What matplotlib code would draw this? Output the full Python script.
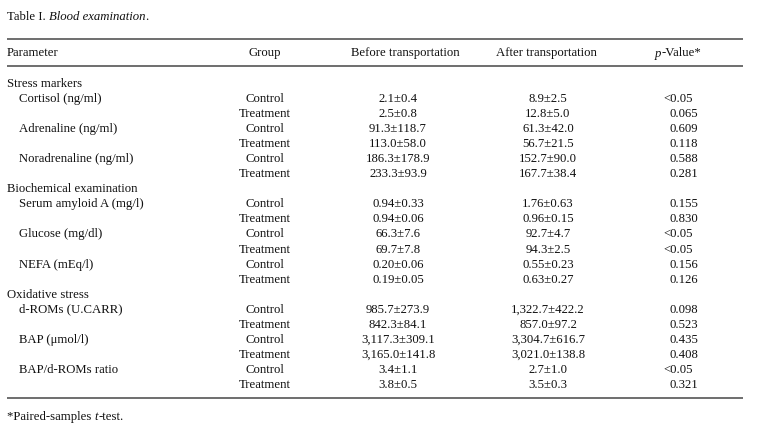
import matplotlib.pyplot as plt

# table content
sections = ["Stress markers", "Biochemical examination", "Oxidative stress"]
parameters = [
    ["Cortisol (ng/ml)", "Adrenaline (ng/ml)", "Noradrenaline (ng/ml)"],
    ["Serum amyloid A (mg/l)", "Glucose (mg/dl)", "NEFA (mEq/l)"],
    ["d-ROMs (U.CARR)", "BAP (\u03bcmol/l)", "BAP/d-ROMs ratio"],
]
groups = ["Control", "Treatment"]
before = [
    "2.1\u00b10.4", "2.5\u00b10.8", "91.3\u00b1118.7", "113.0\u00b158.0",
    "186.3\u00b1178.9", "233.3\u00b193.9",
    "0.94\u00b10.33", "0.94\u00b10.06", "66.3\u00b17.6", "69.7\u00b17.8",
    "0.20\u00b10.06", "0.19\u00b10.05",
    "985.7\u00b1273.9", "842.3\u00b184.1", "3,117.3\u00b1309.1", "3,165.0\u00b1141.8",
    "3.4\u00b11.1", "3.8\u00b10.5",
]
after = [
    "8.9\u00b12.5", "12.8\u00b15.0", "61.3\u00b142.0", "56.7\u00b121.5",
    "152.7\u00b190.0", "167.7\u00b138.4",
    "1.76\u00b10.63", "0.96\u00b10.15", "92.7\u00b14.7", "94.3\u00b12.5",
    "0.55\u00b10.23", "0.63\u00b10.27",
    "1,322.7\u00b1422.2", "857.0\u00b197.2", "3,304.7\u00b1616.7", "3,021.0\u00b1138.8",
    "2.7\u00b11.0", "3.5\u00b10.3",
]
pvalues = [
    "<0.05", "0.065", "0.609", "0.118", "0.588", "0.281",
    "0.155", "0.830", "<0.05", "<0.05", "0.156", "0.126",
    "0.098", "0.523", "0.435", "0.408", "<0.05", "0.321",
]

plt.rcParams['font.family'] = ['Liberation Serif', 'DejaVu Serif']

fig = plt.figure(figsize=(7.61, 4.39), dpi=100)
ax = fig.add_axes([0, 0, 1, 1])
ax.set_xlim(0, 761)
ax.set_ylim(439, 0)
ax.axis('off')

fs = 9.2
col = '#111111'
x_par, x_ind, x_grp, x_bef, x_aft, x_p = 7, 19, 265, 398, 548, 663


def chain(x, y, parts):
    # parts: list of (text, style); each piece starts where the previous ends
    prev = ax.text(x, y, parts[0][0], fontsize=fs, va='baseline', ha='left',
                   style=parts[0][1], color=col)
    for s, st in parts[1:]:
        prev = ax.annotate(s, xy=(1, 0), xycoords=prev, va='bottom', ha='left',
                           fontsize=fs, style=st, color=col)
    return prev


chain(x_par, 20, [("Table I. ", 'normal'), ("Blood examination", 'italic'), (".", 'normal')])

for y in (40, 67, 399):
    ax.plot([7, 743], [y, y], color='#6e6e6e', lw=1.4, solid_capstyle='butt')

hy = 53
ax.text(x_par, hy, "Parameter", fontsize=fs, va='center', ha='left', color=col)
ax.text(x_grp, hy, "Group", fontsize=fs, va='center', ha='center', color=col)
ax.text(405, hy, "Before transportation", fontsize=fs, va='center', ha='center', color=col)
ax.text(546, hy, "After transportation", fontsize=fs, va='center', ha='center', color=col)
chain(655, hy + 3.5, [("p", 'italic'), ("-Value*", 'normal')])

y0, pitch = 84, 15.05
row = 0
k = 0
for s, sec in enumerate(sections):
    ax.text(x_par, y0 + row * pitch, sec, fontsize=fs, va='center', ha='left', color=col)
    row += 1
    for par in parameters[s]:
        ax.text(x_ind, y0 + row * pitch, par, fontsize=fs, va='center', ha='left', color=col)
        for g in groups:
            y = y0 + row * pitch
            ax.text(x_grp, y, g, fontsize=fs, va='center', ha='center', color=col)
            ax.text(x_bef, y, before[k], fontsize=fs, va='center', ha='center', color=col)
            ax.text(x_aft, y, after[k], fontsize=fs, va='center', ha='center', color=col)
            px = x_p if pvalues[k].startswith('<') else x_p + 6
            ax.text(px, y, pvalues[k], fontsize=fs, va='center', ha='left', color=col)
            k += 1
            row += 1

chain(x_par, 420, [("*Paired-samples ", 'normal'), ("t", 'italic'), ("-test.", 'normal')])

fig.savefig('out.png', dpi=100)
